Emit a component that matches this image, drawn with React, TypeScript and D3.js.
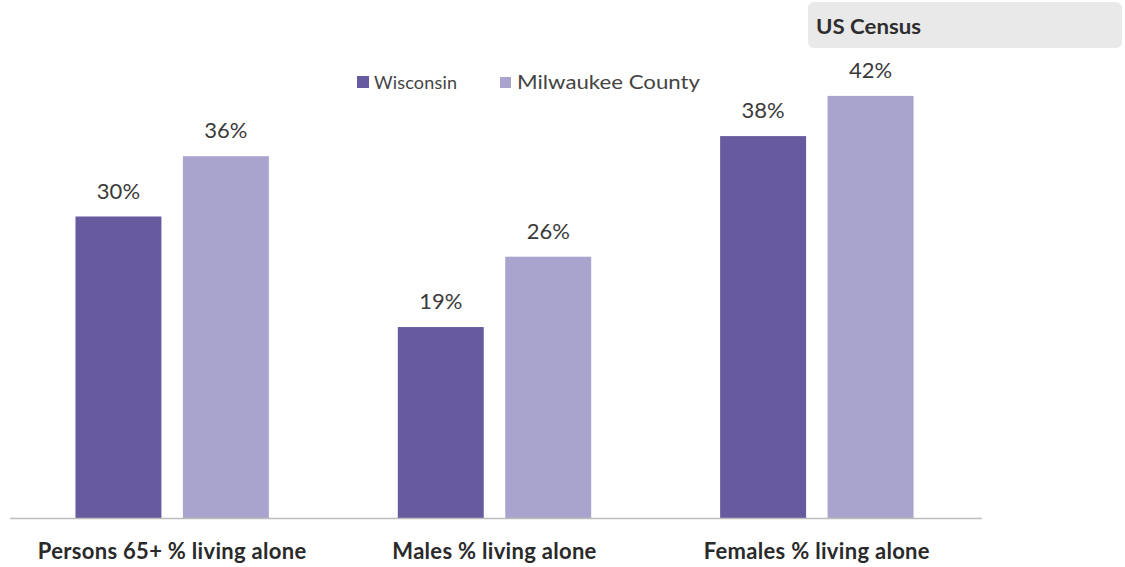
import React from 'react';
import * as d3 from 'd3';

const categories = ['Persons 65+ % living alone', 'Males % living alone', 'Females % living alone'];
const seriesNames = ['Wisconsin', 'Milwaukee County'];
const wisconsin = [30, 19, 38];
const milwaukee = [36, 26, 42];
const colors = ['#685a9e', '#a8a4cd'];

const width = 1125;
const height = 567;
const baseY = 518;
const font = 'Lato, "Open Sans", sans-serif';

const App = () => {
  const x = d3.scaleBand().domain(categories).range([11, 978]).paddingInner(0.4).paddingOuter(0.2);
  const xs = d3.scaleBand().domain(seriesNames).range([0, x.bandwidth()]).paddingInner(0.2);
  const y = d3.scaleLinear().domain([0, 50]).range([baseY, baseY - 502.5]);
  const series = [wisconsin, milwaukee];

  return (
    <svg width={width} height={height} style={{ position: 'absolute', left: 0, top: 0 }}>
      <rect width={width} height={height} fill="#fff" />
      <rect x={808} y={2} width={314} height={46} rx={6} fill="#e9e9e9" />
      <text x={816} y={34} fontFamily={font} fontWeight="bold" fontSize={21} fill="#2e2e2e"
        textLength={105} lengthAdjust="spacingAndGlyphs">US Census</text>

      {/* legend */}
      <rect x={357} y={76} width={12} height={12} fill={colors[0]} />
      <text x={374} y={89} fontFamily={font} fontSize={18} fill="#444" textLength={83} lengthAdjust="spacing">{seriesNames[0]}</text>
      <rect x={500} y={77} width={11} height={11} fill={colors[1]} />
      <text x={517} y={89} fontFamily={font} fontSize={20} fill="#444" textLength={183} lengthAdjust="spacingAndGlyphs">{seriesNames[1]}</text>

      {categories.map((c, i) => (
        <g key={c} transform={`translate(${x(c)},0)`}>
          {seriesNames.map((s, j) => {
            const v = series[j][i];
            const bx = xs(s)!;
            return (
              <g key={s}>
                <rect x={bx} y={y(v)} width={xs.bandwidth()} height={baseY - y(v)} fill={colors[j]} />
                <text x={bx + xs.bandwidth() / 2} y={y(v) - 18} textAnchor="middle" fontFamily={font}
                  fontSize={22} fill="#3a3a3a">{v}%</text>
              </g>
            );
          })}
          <text x={x.bandwidth() / 2} y={559} textAnchor="middle" fontFamily={font} fontWeight="bold"
            fontSize={22} letterSpacing={0.3} fill="#2a2a2a">{c}</text>
        </g>
      ))}

      <line x1={10} x2={982} y1={baseY + 0.5} y2={baseY + 0.5} stroke="#bdbdbd" strokeWidth={1.5} />
    </svg>
  );
};

export default App;
